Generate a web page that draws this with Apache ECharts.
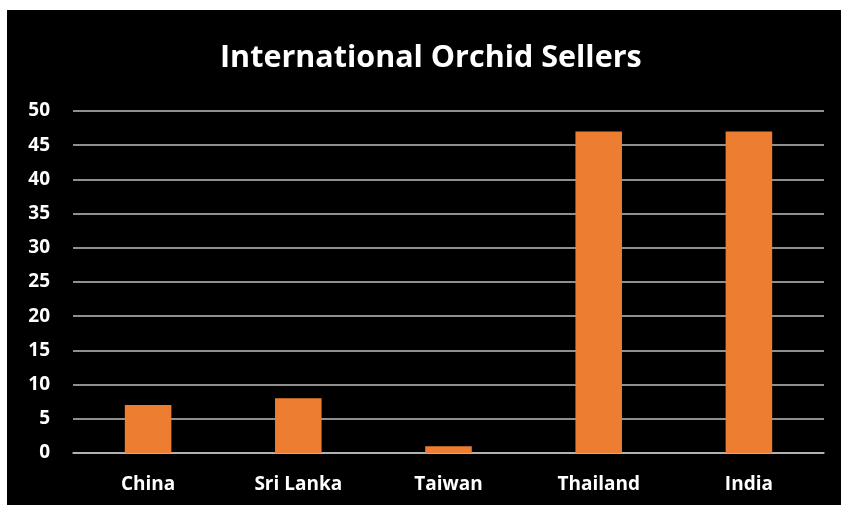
<!DOCTYPE html>
<html lang="en">
<head>
    <meta charset="UTF-8">
    <title>International Orchid Sellers</title>
    <style>
        body{
            margin: 0;
            background: #fff;
        }
        #main{
            position: absolute;
            left: 7px;
            top: 10px;
            width: 834px;
            height: 495px;
            background: #000;
        }
    </style>
</head>
<body>
<div id="main"></div>
<script src="https://cdn.jsdelivr.net/npm/echarts@6/dist/echarts.min.js"></script>
<script>
// categories and values
const countries=['China','Sri Lanka','Taiwan','Thailand','India'];
const sellers=[7,8,1,47,47];

const myChart = echarts.init(document.getElementById('main'));

const font='"Open Sans", "Liberation Sans", sans-serif';

const option = {
    backgroundColor:'#000',
    title:{
        text:'International Orchid Sellers',
        left:208,
        top:28,
        textStyle:{color:'#fff',fontSize:30.5,fontWeight:'bold',fontFamily:font}
    },
    grid:{left:66,right:17,top:101,bottom:52},
    xAxis:{
        type:'category',
        data:countries,
        axisLine:{lineStyle:{color:'#bfbfbf',width:1.5}},
        axisTick:{show:false},
        axisLabel:{color:'#fff',fontSize:19,fontWeight:'bold',fontFamily:font,margin:22}
    },
    yAxis:{
        type:'value',
        min:0,
        max:50,
        interval:5,
        axisLine:{show:false},
        axisTick:{show:false},
        splitLine:{lineStyle:{color:'#bfbfbf',width:1.5}},
        axisLabel:{color:'#fff',fontSize:19,fontWeight:'bold',fontFamily:font,margin:23}
    },
    series:[
        {
            type:'bar',
            data:sellers,
            barWidth:'31%',
            itemStyle:{color:'#ED7D31'}
        }
    ]
};

myChart.setOption(option);
</script>
</body>
</html>
